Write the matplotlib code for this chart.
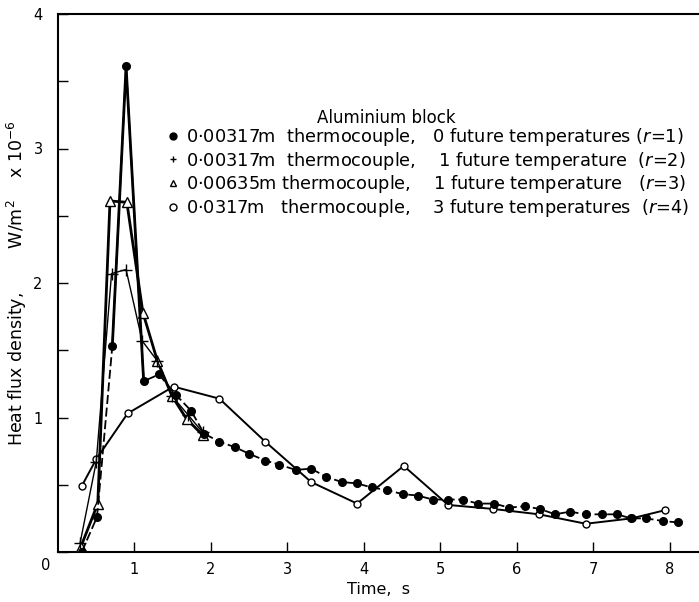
import matplotlib
matplotlib.use("Agg")
import matplotlib.pyplot as plt
from matplotlib.ticker import MultipleLocator

# r=1 : 0.00317 m thermocouple, 0 future temperatures
t1 = [0.31, 0.51, 0.71, 0.89, 1.12, 1.32, 1.54, 1.74, 1.91, 2.11,
      2.31, 2.50, 2.71, 2.89, 3.11, 3.31, 3.50, 3.71, 3.91, 4.10,
      4.30, 4.51, 4.70, 4.90, 5.10, 5.29, 5.49, 5.70, 5.90, 6.10,
      6.30, 6.50, 6.69, 6.90, 7.11, 7.31, 7.49, 7.69, 7.91, 8.10]
q1 = [0.00, 0.26, 1.53, 3.61, 1.27, 1.32, 1.17, 1.05, 0.88, 0.82,
      0.78, 0.73, 0.68, 0.65, 0.61, 0.62, 0.56, 0.52, 0.51, 0.48,
      0.46, 0.43, 0.42, 0.39, 0.39, 0.39, 0.36, 0.36, 0.33, 0.34,
      0.32, 0.28, 0.30, 0.28, 0.28, 0.28, 0.25, 0.25, 0.23, 0.22]

# r=2 : 0.00317 m thermocouple, 1 future temperature
t2 = [0.29, 0.50, 0.70, 0.89, 1.10, 1.30, 1.49, 1.70, 1.89]
q2 = [0.07, 0.67, 2.07, 2.10, 1.57, 1.42, 1.16, 1.02, 0.89]

# r=3 : 0.00635 m thermocouple, 1 future temperature
t3 = [0.30, 0.52, 0.68, 0.90, 1.11, 1.30, 1.49, 1.68, 1.89]
q3 = [0.04, 0.36, 2.61, 2.60, 1.78, 1.42, 1.16, 0.99, 0.87]

# r=4 : 0.0317 m thermocouple, 3 future temperatures
t4 = [0.31, 0.50, 0.91, 1.51, 2.11, 2.71, 3.31, 3.91, 4.52, 5.10,
      5.69, 6.29, 6.90, 7.50, 7.93]
q4 = [0.49, 0.69, 1.03, 1.23, 1.14, 0.82, 0.52, 0.36, 0.64, 0.35,
      0.32, 0.28, 0.21, 0.25, 0.31]

labels = [
    "0\u00b700317m  thermocouple,   0 future temperatures ($r$=1)",
    "0\u00b700317m  thermocouple,    1 future temperature  ($r$=2)",
    "0\u00b700635m thermocouple,    1 future temperature   ($r$=3)",
    "0\u00b70317m   thermocouple,    3 future temperatures  ($r$=4)",
]

plt.rcParams['font.family'] = ['DejaVu Sans']
fig = plt.figure(figsize=(6.99, 6.02), dpi=100)
ax = fig.add_axes([58 / 699, 50 / 602, 641 / 699, 538 / 602])

k = 'black'
h4, = ax.plot(t4, q4, '-', color=k, lw=1.4, marker='o', ms=5,
              mfc='white', mec=k, mew=1.0, zorder=3)
h3, = ax.plot(t3, q3, '-', color=k, lw=2.0, marker='^', ms=7,
              mfc='white', mec=k, mew=1.0, zorder=4)
h2, = ax.plot(t2, q2, '-', color=k, lw=1.0, marker='+', ms=9,
              mew=1.0, zorder=5)
h1, = ax.plot(t1, q1, '--', color=k, lw=1.3, dashes=(5, 2), marker='o',
              ms=5.5, mfc=k, mec=k, zorder=6)
ax.plot(t1[2:5], q1[2:5], '-', color=k, lw=2.0, zorder=6)

ax.set_xlim(0, 8.38)
ax.set_ylim(0, 4)
ax.spines['right'].set_visible(False)
for s in ['left', 'bottom', 'top']:
    ax.spines[s].set_linewidth(1.5)

ax.xaxis.set_major_locator(MultipleLocator(1))
ax.yaxis.set_major_locator(MultipleLocator(1))
ax.yaxis.set_minor_locator(MultipleLocator(0.5))
ax.tick_params(which='both', direction='in', top=False, right=False,
               labelsize=10.5, width=1.0, length=7)
ax.tick_params(axis='y', pad=11)
ax.tick_params(axis='x', pad=7)
ax.set_xticks([1, 2, 3, 4, 5, 6, 7, 8])
ax.set_yticks([1, 2, 3, 4])
ax.text(-0.012, -0.012, '0', transform=ax.transAxes, fontsize=10.5,
        ha='right', va='top')

ax.set_xlabel('Time,  s', fontsize=11.5, labelpad=4)
ax.set_ylabel('Heat flux density,        W/m$^{2}$    x 10$^{-6}$',
              fontsize=12.5)
ax.yaxis.set_label_coords(-0.046, 0.5)

ax.text(0.512, 0.807, 'Aluminium block', transform=ax.transAxes,
        fontsize=12, ha='center', va='center')
leg = ax.legend([h1, h2, h3, h4], labels,
                loc='upper left', bbox_to_anchor=(0.172, 0.792),
                frameon=False, handlelength=0.5, handletextpad=0.5,
                fontsize=12.8, labelspacing=0.1,
                borderpad=0, borderaxespad=0)
for line in leg.get_lines():
    line.set_linestyle('None')
    line.set_markersize(5)

fig.savefig('out.png', dpi=100)
